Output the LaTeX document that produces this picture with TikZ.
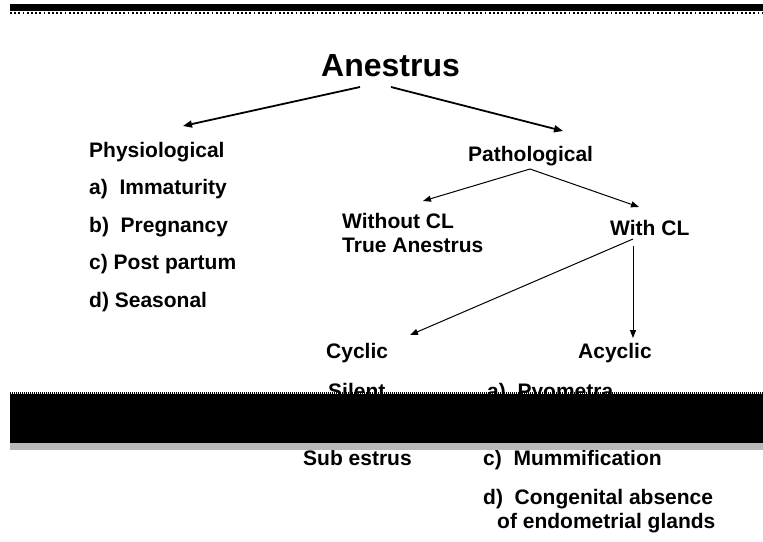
\documentclass[tikz,border=0pt]{standalone}
\usepackage{fontspec}
\setmainfont{Liberation Sans}
\usetikzlibrary{arrows.meta,positioning}

\begin{document}
\begin{tikzpicture}[
    x=1pt, y=-1pt,
    txt/.style={font=\fontsize{21}{24}\selectfont\bfseries, inner sep=0pt, anchor=base west},
    twoline/.style={txt, align=left, anchor=north west},
    title/.style={font=\fontsize{32}{38}\selectfont\bfseries, inner sep=0pt, anchor=base west},
    bigline/.style={-{Triangle[length=9pt,width=7pt]}, line width=1.8pt},
    line/.style={-{Triangle[length=8pt,width=6pt]}, line width=1pt},
    band/.style={fill=black},
    edge/.style={line width=2pt, dash pattern=on 1.8pt off 2.4pt}
]
    \useasboundingbox (0,0) rectangle (763,541);

    \node[title] (anestrus) at (321,76) {Anestrus};

    % left branch
    \node[txt] (physio) at (89,157) {Physiological};
    \node[txt, below=37.5pt of physio.base west, anchor=base west] (immat) {a)\ \ Immaturity};
    \node[txt, below=37.5pt of immat.base west, anchor=base west] (pregn) {b)\ \ Pregnancy};
    \node[txt, below=37.5pt of pregn.base west, anchor=base west] (postp) {c) Post partum};
    \node[txt, below=37.5pt of postp.base west, anchor=base west] (season) {d) Seasonal};

    % right branch
    \node[txt] (patho) at (468,161) {Pathological};
    \node[twoline] (nocl) at (342,213) {Without CL\\True Anestrus};
    \node[txt] (withcl) at (610,235) {With CL};
    \node[txt] (cyclic) at (326,358) {Cyclic};
    \node[txt] (acyclic) at (578,358) {Acyclic};

    \node[txt] (silent) at (328,398) {Silent};
    \node[txt] (pyo) at (487,398) {a)\ \ Pyometra};
    \node[txt] (subest) at (303,465) {Sub estrus};
    \node[txt] (mumm) at (483,465) {c)\ \ Mummification};
    \node[twoline] (congen) at (483,488.7) {d)\ \ Congenital absence\\\hspace*{14pt}of endometrial glands};

    \draw[bigline] ([xshift=39pt,yshift=-11pt]anestrus.base west) -- ([xshift=94pt,yshift=31pt]physio.base west);
    \draw[bigline] ([xshift=70pt,yshift=-11pt]anestrus.base west) -- ([xshift=95pt,yshift=30pt]patho.base west);
    \draw[line] ([xshift=62pt,yshift=-8pt]patho.base west) -- ([xshift=81pt,yshift=12pt]nocl.north west);
    \draw[line] ([xshift=62pt,yshift=-8pt]patho.base west) -- ([xshift=29pt,yshift=28pt]withcl.base west);
    \draw[line] ([xshift=23pt,yshift=-4pt]withcl.base west) -- ([xshift=84pt,yshift=23pt]cyclic.base west);
    \draw[line] ([xshift=23pt,yshift=-11pt]withcl.base west) -- ([xshift=55pt,yshift=20pt]acyclic.base west);

    % slide bands
    \fill[band] (10,4) rectangle (763,11);
    \draw[edge] (10,13) -- (763,13);
    \draw[line width=1.4pt, dash pattern=on 1pt off 1pt] (10,393) -- (763,393);
    \fill[band] (10,394) rectangle (763,443);
    \fill[gray!55] (10,443) rectangle (763,450);
\end{tikzpicture}
\end{document}
